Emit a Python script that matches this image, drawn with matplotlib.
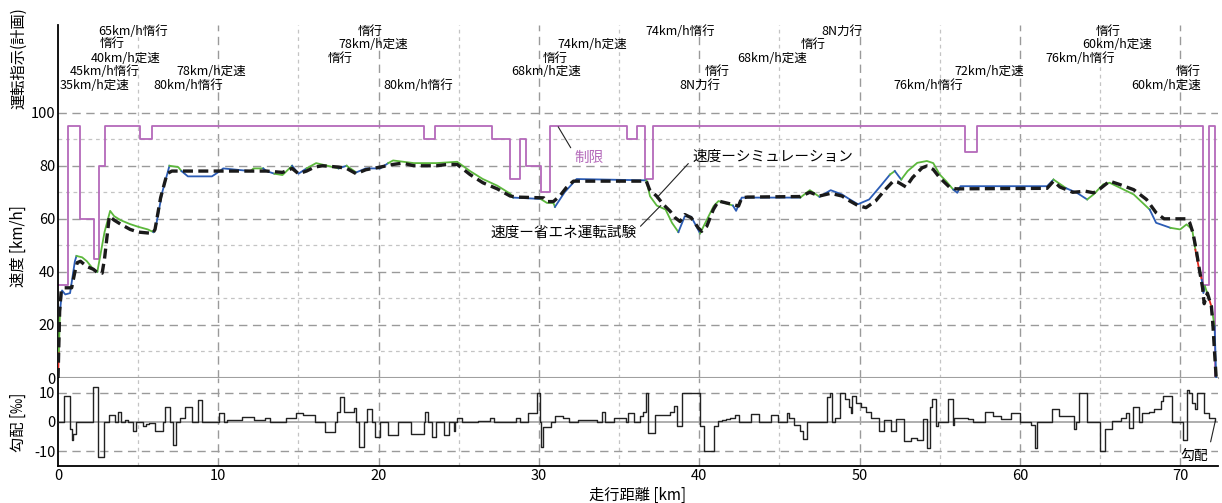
import matplotlib
matplotlib.use('Agg')
import matplotlib.pyplot as plt

plt.rcParams['font.family'] = ['Noto Sans CJK JP', 'DejaVu Sans']
plt.rcParams['axes.unicode_minus'] = False

# 速度制限 (step)
lim_km = [0, 0.62, 1.37, 2.24, 2.56, 2.93, 5.1, 5.85, 22.8, 23.5, 27.05, 28.2, 28.8, 29.2,
          30.1, 30.7, 35.5, 36.1, 36.6, 37.1, 56.6, 57.3, 71.45, 71.8, 72.2]
lim_v = [35, 95, 60, 45, 80, 95, 90, 95, 90, 95, 90, 75, 90, 80,
         70, 95, 90, 95, 75, 95, 85, 95, 35, 95, 0]

# シミュレーション
sim_km = [0.0, 0.1, 0.2, 0.4, 0.85, 1.05, 1.2, 1.4, 1.8, 2.2, 2.5, 2.75, 2.9, 3.2, 3.5, 3.9,
          4.5, 5.0, 5.9, 6.05, 6.4, 6.8, 7.1, 9.0, 12.0, 13.0, 14.0, 14.6, 15.0, 15.5, 16.0,
          16.5, 17.5, 18.0, 18.6, 19.2, 20.1, 20.9, 21.5, 22.2, 23.6, 24.3, 24.9, 25.7, 26.5,
          27.4, 28.2, 28.6, 30.3, 30.5, 30.9, 31.3, 31.7, 32.15, 32.4, 36.7, 36.9, 37.35,
          37.76, 38.18, 38.5, 38.8, 39.1, 39.5, 39.94, 40.15, 40.47, 40.88, 41.2, 42.1, 42.45,
          42.65, 43.0, 46.3, 46.9, 47.5, 48.2, 48.9, 49.4, 49.9, 50.4, 51.0, 51.6, 52.1, 52.4,
          52.9, 53.3, 53.9, 54.2, 54.6, 55.0, 55.6, 56.0, 61.7, 62.1, 62.5, 63.3, 64.1, 64.6,
          65.0, 65.6, 66.2, 67.1, 67.9, 68.5, 69.0, 70.4, 70.6, 70.8, 71.0, 71.2, 71.4, 71.5,
          71.7, 71.95, 72.05, 72.15, 72.25]
sim_v = [0, 25, 33, 34, 34, 40, 43.5, 44, 42, 41, 39.5, 39.5, 45, 61, 59.5, 58,
         56, 55, 54.5, 56, 68, 77, 78, 78, 78, 78, 77.5, 79, 77, 78, 79.5,
         80, 79.5, 79, 77, 78.5, 79.5, 80.5, 81, 80, 80, 80.5, 80.5, 76.7, 73.6,
         71.3, 68.6, 68.2, 67.9, 66.5, 66.5, 68.6, 71.7, 74.2, 74.2, 74.2, 71, 68.5,
         65.4, 62.9, 60.4, 59, 61.6, 60.4, 56.6, 55.3, 57.2, 63.5, 66.7, 65.4, 64.8,
         67.9, 68.2, 68.4, 70, 68.6, 69.6, 68.6, 66.7, 65, 64.2, 66.7, 71, 74.2, 73.8,
         72, 75.5, 79.2, 79.9, 78.6, 75.5, 72, 71.3, 71.5, 74.2, 72, 70, 70.4, 69.8,
         71.3, 74.2, 73, 71, 67.3, 62.3, 60, 60, 58.5, 54.7, 48.4, 40.9, 34, 28,
         32, 27, 19.5, 9.4, 0]

# 省エネ運転試験 (g: 惰行, b: 定速, r: ブレーキ)
meas_km = [0.0, 0.05, 0.12, 0.25, 0.45, 0.75, 1.05, 1.15, 1.5, 1.8, 2.2, 2.45, 2.9, 3.25, 3.5,
           3.9, 4.5, 5.0, 5.6, 5.95, 6.1, 6.5, 6.95, 7.5, 7.7, 8.1, 9.6, 10.1, 10.3, 12.0,
           12.2, 12.8, 13.0, 13.5, 14.0, 14.6, 15.0, 15.5, 16.1, 17.5, 18.0, 18.6, 19.2, 20.1,
           20.6, 20.9, 22.2, 23.6, 24.9, 25.7, 26.5, 27.4, 28.2, 28.4, 30.1, 30.5, 30.9, 31.0,
           31.6, 32.35, 36.7, 36.93, 37.35, 37.9, 38.3, 38.7, 39.1, 39.5, 40.05, 40.9, 41.2,
           42.1, 42.3, 42.65, 46.3, 46.9, 47.5, 48.2, 48.9, 49.4, 49.9, 50.6, 51.3, 51.9, 52.2,
           52.6, 53.0, 53.6, 54.2, 54.6, 55.0, 55.4, 55.85, 56.1, 56.3, 61.7, 62.1, 62.9, 63.56,
           64.2, 64.6, 65.2, 65.6, 67.1, 68.1, 68.5, 69.4, 70.0, 70.4, 70.75, 70.95, 71.15,
           71.35, 71.45, 71.55, 71.75, 71.95, 72.15, 72.25]
meas_v = [0, 10, 25, 33, 31.5, 32, 44, 46, 45.5, 44, 41, 40, 55, 63, 61,
          59.5, 58, 57, 56, 55, 57, 70, 80, 79.5, 78, 76, 76, 78, 79, 78,
          79, 79, 78, 77, 76.5, 80, 77, 79, 81, 79, 80, 77.5, 79, 79,
          81, 82, 81, 81, 81.5, 78, 75, 72.5, 69.5, 68, 67.5, 66, 66, 64.5,
          70, 75, 74.5, 68.5, 65, 63.5, 58.5, 55, 61, 60.8, 54.5, 64.8, 66.7,
          65, 63, 68, 68, 70.8, 68.3, 70.8, 69.2, 67.3, 65.5, 67.3, 72.3, 76.7, 78,
          74.8, 78, 81.1, 81.8, 81, 76.7, 74.2, 71, 69.8, 72.3, 72.3, 74.8, 71.5, 69.8,
          67.3, 69.2, 73, 73.6, 69.2, 63.5, 58.5, 56.6, 56, 57.9, 56, 48.4, 42,
          37, 32, 34.6, 30.8, 27, 19.5, 0]
meas_mode = ['r', 'g', 'b', 'b', 'b', 'b', 'b', 'g', 'g', 'g', 'b', 'g', 'g', 'g', 'g',
             'g', 'g', 'g', 'g', 'b', 'b', 'b', 'g', 'g', 'b', 'b', 'b', 'b', 'b', 'g',
             'g', 'b', 'b', 'g', 'g', 'b', 'b', 'g', 'g', 'b', 'g', 'b', 'b', 'b',
             'g', 'g', 'g', 'g', 'g', 'g', 'g', 'g', 'g', 'b', 'g', 'g', 'g', 'b',
             'b', 'b', 'g', 'g', 'g', 'g', 'g', 'b', 'b', 'b', 'g', 'g', 'g',
             'b', 'b', 'b', 'g', 'g', 'b', 'b', 'b', 'b', 'b', 'b', 'b', 'g', 'b',
             'g', 'g', 'g', 'g', 'g', 'g', 'g', 'b', 'b', 'b', 'b', 'g', 'b', 'b',
             'g', 'g', 'g', 'g', 'g', 'b', 'b', 'g', 'g', 'g', 'g', 'r', 'r',
             'b', 'b', 'g', 'r', 'g', 'b', 'b']

# 勾配 (step)
grad_km = [0, 0.375, 0.75, 0.85, 0.95, 1.1, 2.15, 2.52, 2.88, 3.19, 3.54, 3.75, 3.92, 4.17,
           4.38, 4.65, 4.88, 5.33, 5.48, 5.69, 6.06, 6.56, 6.69, 6.98, 7.19, 7.35, 7.6, 7.92,
           8.33, 8.71, 8.96, 10.06, 10.38, 10.55, 11.46, 12.25, 12.9, 13.25, 14.23, 14.85,
           15.27, 16.0, 16.67, 17.3, 17.4, 17.56, 17.85, 18.44, 18.6, 18.75, 19.1, 19.3, 19.6,
           19.75, 20.1, 20.6, 21.2, 22.0, 22.8, 22.9, 23.05, 23.3, 23.6, 24.05, 24.4, 24.67,
           24.77, 24.9, 25.2, 26.2, 26.95, 27.2, 28.57, 28.8, 29.34, 29.9, 30.06, 30.15,
           30.27, 30.73, 31.0, 31.47, 31.9, 32.45, 33.65, 33.96, 34.15, 34.67, 35.4, 35.58,
           35.94, 36.3, 36.52, 36.67, 36.83, 37.25, 38.15, 38.4, 38.6, 38.9, 40.06, 40.27,
           40.9, 41.15, 41.4, 41.7, 41.9, 42.2, 42.45, 43.2, 43.7, 44.5, 44.9, 45.5, 45.63,
           45.94, 46.3, 46.5, 46.73, 47.98, 48.15, 48.3, 48.44, 48.77, 49.08, 49.33, 49.44,
           49.54, 49.75, 50.06, 50.4, 50.7, 51.2, 51.52, 51.94, 52.25, 52.77, 53.23, 53.6,
           53.96, 54.23, 54.4, 54.55, 54.75, 54.9, 55.5, 55.8, 55.9, 56.74, 57.1, 57.8, 58.3,
           58.8, 59.44, 60.0, 60.7, 60.95, 61.05, 62.03, 62.45, 63.4, 63.5, 63.7, 64.2,
           64.98, 65.3, 65.77, 66.3, 66.6, 66.8, 67.05, 67.43, 67.63, 68.05, 68.36, 68.78,
           68.94, 69.5, 70.19, 70.44, 70.55, 70.75, 70.9, 71.06, 71.5, 71.78, 72.2]
grad_v = [0, 9, -2.5, -6, -4, 0, 12, -12, 0, 2.5, 0, 3.3, 0, 0.8,
          0, -3, 0, -1.5, -0.7, -0.3, -3, 0, 5, 0, -8, 0, 1.5, 5,
          0, 7.5, 0, 3, 0, 0.6, 1.8, 0.8, 1.5, 0, 1.5, 3,
          2.5, 0, -3.3, 0, 3.5, 8.5, 3.5, 4.7, 0, -8.6, 0, 4.3, 0,
          -5, 0, -4.5, 0, -4, 0, 3.3, 0, -5, 0, -4.5, 0, -3,
          0, 1.5, 0, 0.5, 1.5, 0, 1.5, 0, 3, 10, 0, -8.5,
          -1.8, 0, 2, 1.5, 0, 0.8, 0, 3.3, 0, 1.5, 0, 3,
          0, 2, 3.5, 10, -3.6, 2.5, 3.3, 5.3, -1.5, 10, -1.5, -10,
          -1.5, 0.3, 0.8, 1, 1.5, 2.3, 0, 2.8, 0, 2.5, 0, 3, 1.5,
          -1, -3, -5.8, 0, 8.5, 10, 0, 1.5, 10, 7.8, 5, 3,
          9, 6.5, 5, 3.3, 1.5, -3, 0.6, -3, 1, -6.5, -5.3, -6.3,
          1, -9, 5, 8, -1.4, 0, 8, -1, 1.5, 1, 0, 3.3, 2,
          1, 3, 0, -1, -9, 0, 4.3, 2, -2.5, 0, 10, 0,
          -10, -2.5, 0.5, 1.5, 3, -2, 5, 0, 3, 3.3, 4.3, 7,
          9, 0, -6, 11, 10, 6.5, 4.5, 10, 3, 1.5, 0.5]

# 運転指示(計画)
note_km = [4.68, 3.37, 4.24, 2.93, 2.25, 9.54, 8.11, 19.46, 19.65, 17.59, 22.46, 33.31, 31.0,
           30.44, 38.8, 41.1, 40.05, 44.54, 48.9, 47.1, 58.08, 54.27, 65.5, 66.06, 63.76,
           70.5, 69.1]
note_v = [130.6, 126.0, 120.4, 115.5, 110.2, 115.5, 110.2, 130.6, 125.7, 120.4, 110.2, 125.7,
          120.4, 115.5, 130.6, 115.5, 110.2, 120.4, 130.6, 125.7, 115.5, 110.2, 130.6, 125.7,
          120.4, 115.5, 110.2]
note_text = ['65km/h惰行', '惰行', '40km/h定速', '45km/h惰行', '35km/h定速', '78km/h定速',
             '80km/h惰行', '惰行', '78km/h定速', '惰行', '80km/h惰行', '74km/h定速', '惰行',
             '68km/h定速', '74km/h惰行', '惰行', '8N力行', '68km/h定速', '8N力行', '惰行',
             '72km/h定速', '76km/h惰行', '惰行', '60km/h定速', '76km/h惰行', '惰行',
             '60km/h定速']

mode_color = {'g': '#5cb83c', 'b': '#2b5cb5', 'r': '#e3261c'}
purple = '#b469ba'
XMAX = 72.36

fig = plt.figure(figsize=(12.22, 5.03), dpi=100)
ax = fig.add_axes([0.0475, 0.2485, 0.9492, 0.7015])
ax2 = fig.add_axes([0.0475, 0.0736, 0.9492, 0.1749])

for a in (ax, ax2):
    a.set_xlim(0, XMAX)
    for s in ('top', 'right'):
        a.spines[s].set_visible(False)
    a.spines['left'].set_linewidth(1.3)
    for k in range(5, 75, 5):
        if k % 10 == 0:
            a.axvline(k, color='#9a9a9a', lw=1.0, ls=(0, (6, 4)), zorder=0)
        else:
            a.axvline(k, color='#c4c4c4', lw=0.9, ls=(0, (3, 3)), zorder=0)
    a.tick_params(length=0, labelsize=10.5, pad=2)

# upper panel
ax.set_ylim(0, 133)
ax.set_yticks([0, 20, 40, 60, 80, 100])
ax.set_xticks([])
ax.spines['bottom'].set_color('#a0a0a0')
ax.spines['bottom'].set_linewidth(1.5)
for k in range(10, 101, 10):
    if k % 20 == 0:
        ax.axhline(k, color='#9a9a9a', lw=1.0, ls=(0, (6, 4)), zorder=0)
    else:
        ax.axhline(k, color='#c4c4c4', lw=0.9, ls=(0, (3, 3)), zorder=0)

ax.plot(lim_km, lim_v, drawstyle='steps-post', color=purple, lw=1.3, zorder=2)

i = 0
n = len(meas_km)
while i < n - 1:
    j = i
    while j < n - 2 and meas_mode[j + 1] == meas_mode[i]:
        j += 1
    ax.plot(meas_km[i:j + 2], meas_v[i:j + 2], color=mode_color[meas_mode[i]], lw=1.3, zorder=3)
    i = j + 1

ax.plot(sim_km, sim_v, color='#1a1a1a', lw=2.4, ls=(0, (3, 1.6)), zorder=4)

for x, y, t in zip(note_km, note_v, note_text):
    ax.text(x, y, t, fontsize=9, ha='center', va='center', clip_on=False)

ax.annotate('制限', xy=(31.2, 94.7), xytext=(32.2, 83.0), fontsize=10.5, color=purple,
            ha='left', va='center',
            arrowprops=dict(arrowstyle='-', color='#222222', lw=0.8, shrinkA=1, shrinkB=0,
                            relpos=(0, 0.8)))
ax.annotate('速度ーシミュレーション', xy=(37.35, 67.9), xytext=(39.55, 83.4), fontsize=10.5,
            ha='left', va='center',
            arrowprops=dict(arrowstyle='-', color='#222222', lw=0.8, shrinkA=1, shrinkB=0,
                            relpos=(0, 0.3)))
ax.annotate('速度ー省エネ運転試験', xy=(37.6, 65.0), xytext=(36.1, 54.7), fontsize=10.5,
            ha='right', va='center',
            arrowprops=dict(arrowstyle='-', color='#222222', lw=0.8, shrinkA=1, shrinkB=0,
                            relpos=(1, 0.7)))

# lower panel
ax2.set_ylim(-15, 15)
ax2.set_yticks([-10, 0, 10])
ax2.set_xticks(range(0, 71, 10))
ax2.spines['bottom'].set_linewidth(1.3)
ax2.axhline(0, color='#a8a8a8', lw=1.3, zorder=0)
for k in (-10, 10):
    ax2.axhline(k, color='#9a9a9a', lw=1.0, ls=(0, (6, 4)), zorder=0)
ax2.plot(grad_km, grad_v, drawstyle='steps-post', color='#222222', lw=1.0, zorder=3)
ax2.annotate('勾配', xy=(72.2, 0.5), xytext=(70.9, -11.5), fontsize=10, ha='center',
             va='center',
             arrowprops=dict(arrowstyle='-', color='#222222', lw=0.8, shrinkA=3, shrinkB=0,
                             relpos=(1, 0.8)))
ax2.set_xlabel('走行距離 [km]', fontsize=11, labelpad=3)

fig.text(0.015, 0.885, '運転指示(計画)', rotation=90, fontsize=11, ha='center', va='center')
fig.text(0.015, 0.51, '速度 [km/h]', rotation=90, fontsize=11, ha='center', va='center')
fig.text(0.015, 0.16, '勾配 [‰]', rotation=90, fontsize=11, ha='center', va='center')

fig.savefig('out.png', dpi=100)
